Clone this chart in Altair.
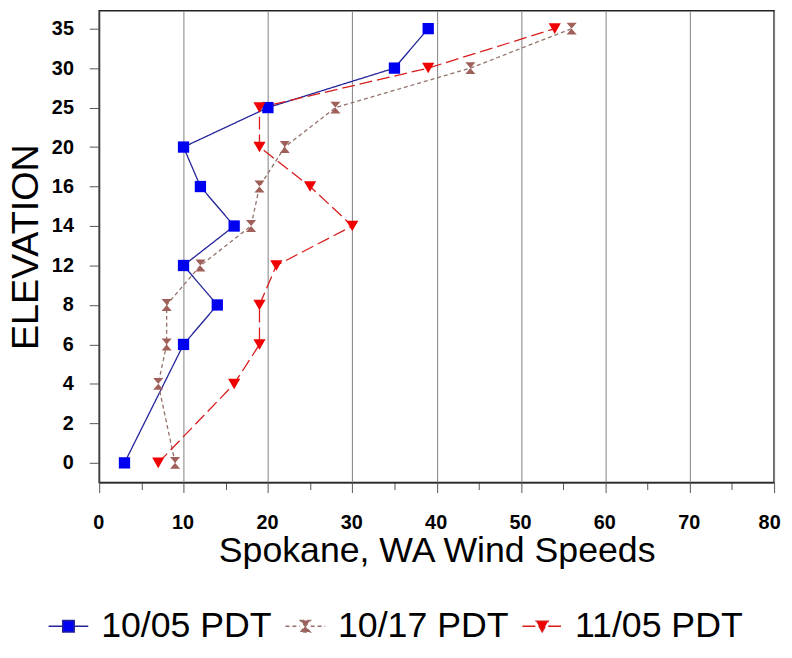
import altair as alt
import pandas as pd

# ---------------- data ----------------
elev_labels = ["0", "2", "4", "6", "8", "12", "14", "16", "20", "25", "30", "35"]
series_names = ["10/05 PDT", "10/17 PDT", "11/05 PDT"]

s1_elev = [0, 6, 8, 12, 14, 16, 20, 25, 30, 35]
s1_speed = [3, 10, 14, 10, 16, 12, 10, 20, 35, 39]

s2_elev = [0, 4, 6, 8, 12, 14, 16, 20, 25, 30, 35]
s2_speed = [9, 7, 8, 8, 12, 18, 19, 22, 28, 44, 56]

s3_elev = [0, 4, 6, 8, 12, 14, 16, 20, 25, 30, 35]
s3_speed = [7, 16, 19, 19, 21, 30, 25, 19, 19, 39, 54]

x_ticks = list(range(0, 81, 5))

# ---------------- styles ----------------
line_colors = ["#23239a", "#94706a", "#d81c1c"]
marker_colors = ["#0000f0", "#a0605a", "#f00000"]
dashes = [[1, 0], [4, 3], [13, 5]]
marker_shapes = [
    "square",
    "M-0.85,-1H0.85L-0.85,1H0.85Z",
    "triangle-down",
]
marker_sizes = [130, 144, 150]
legend_paths = [
    "M-1,0H-0.29M0.29,0H1M-0.29,-0.29H0.29V0.29H-0.29Z",
    "M-1,0H-0.27M0.27,0H1M-0.25,-0.29H0.25L-0.25,0.29H0.25Z",
    "M-1,0H-0.3M0.3,0H1M-0.3,-0.25H0.3L0,0.27Z",
]

rows = []
for name, elevs, speeds in [
    (series_names[0], s1_elev, s1_speed),
    (series_names[1], s2_elev, s2_speed),
    (series_names[2], s3_elev, s3_speed),
]:
    for e, s in zip(elevs, speeds):
        rows.append({"series": name, "elev": e, "idx": elev_labels.index(str(e)), "speed": s})
df = pd.DataFrame(rows)

FONT = "Liberation Sans"

label_expr_y = "[" + ",".join("'" + l + "'" for l in elev_labels) + "][datum.value]"

x_enc = alt.X(
    "speed:Q",
    scale=alt.Scale(domain=[0, 80], nice=False, zero=False),
    axis=alt.Axis(
        values=x_ticks,
        labelExpr="datum.value % 10 == 0 ? datum.label : ''",
        title="Spokane, WA Wind Speeds",
        titleFontSize=36,
        titleFont=FONT,
        titleFontWeight="normal",
        titleColor="black",
        titlePadding=2,
        labelFontSize=20,
        labelFont=FONT,
        labelFontWeight="bold",
        labelColor="black",
        labelPadding=20,
        labelFlush=False,
        labelOverlap=False,
        labelOffset={"condition": {"test": "datum.value == 80", "value": -5}, "value": -1},
        grid=True,
        gridColor="#808080",
        gridWidth=1,
        gridOpacity={"condition": {"test": "datum.value % 10 != 0", "value": 0}, "value": 1},
        tickSize={"condition": {"test": "datum.value % 10 == 0", "value": 10}, "value": 7},
        tickColor="#555555",
        domainColor="#333333",
    ),
)

y_enc = alt.Y(
    "idx:Q",
    scale=alt.Scale(domain=[-0.5, 11.45], nice=False, zero=False),
    axis=alt.Axis(
        values=list(range(len(elev_labels))),
        labelExpr=label_expr_y,
        title="ELEVATION",
        titleFontSize=38,
        titleFont=FONT,
        titleFontWeight="normal",
        titleColor="black",
        titlePadding=6,
        labelFontSize=20,
        labelFont=FONT,
        labelFontWeight="bold",
        labelColor="black",
        labelPadding=16,
        labelOverlap=False,
        grid=False,
        tickSize=10,
        tickColor="#555555",
        domainColor="#333333",
    ),
)

base = alt.Chart(df)

series_layers = []
for i, name in enumerate(series_names):
    sub = base.transform_filter(alt.datum.series == name)
    series_layers.append(
        sub.mark_line(strokeWidth=1.3, color=line_colors[i], strokeDash=dashes[i]).encode(
            x=x_enc, y=y_enc, order="idx:Q"
        )
    )
for i, name in enumerate(series_names):
    sub = base.transform_filter(alt.datum.series == name)
    series_layers.append(
        sub.mark_point(filled=True, shape=marker_shapes[i], size=marker_sizes[i], color=marker_colors[i], opacity=1)
        .encode(x=x_enc, y=y_enc)
    )

leg = alt.Legend(
    title=None,
    orient="none",
    legendX=-52,
    legendY=600,
    direction="horizontal",
    symbolSize=1600,
    symbolStrokeWidth=1.5,
    symbolOpacity=1,
    labelFontSize=36,
    labelFont=FONT,
    labelColor="black",
    labelOffset=12,
    columnPadding=10,
    labelLimit=400,
)

# invisible layer (opacity 0) that only carries the legend
legend_layer = base.mark_point(filled=True, strokeWidth=1.5, opacity=0).encode(
    x=x_enc,
    y=y_enc,
    fill=alt.Fill("series:N", scale=alt.Scale(domain=series_names, range=marker_colors), legend=leg),
    stroke=alt.Stroke("series:N", scale=alt.Scale(domain=series_names, range=line_colors), legend=leg),
    shape=alt.Shape("series:N", scale=alt.Scale(domain=series_names, range=legend_paths), legend=leg),
    strokeDash=alt.StrokeDash("series:N", scale=alt.Scale(domain=series_names, range=dashes), legend=leg),
)

chart = (
    alt.layer(*series_layers, legend_layer)
    .properties(
        width=681,
        height=476,
        autosize=alt.AutoSizeParams(type="none"),
        padding={"left": 92, "top": 0, "right": 10, "bottom": 165},
        background="white",
    )
    .configure_view(stroke="#222222", strokeWidth=1.5)
)

chart.save("out.html", embed_options={"renderer": "svg", "actions": False})
